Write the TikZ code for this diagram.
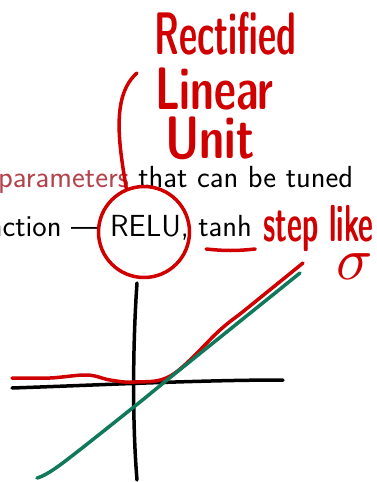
\documentclass[tikz,border=0pt]{standalone}
\usepackage{xcolor}
\usepackage{graphicx}
\usepackage{tikz}
\usetikzlibrary{positioning,calc}
\definecolor{penred}{HTML}{D00000}
\definecolor{alertred}{HTML}{B3434C}
\definecolor{pengreen}{HTML}{11795B}
\newcommand{\handtext}[2][0.6]{\scalebox{#1}[1]{#2}}

\begin{document}
\begin{tikzpicture}[x=1pt,y=-1pt,
  slide/.style={font=\fontsize{30.5}{34}\selectfont\sffamily,inner sep=0pt},
  hand/.style={font=\fontsize{60}{64}\selectfont\sffamily\bfseries,text=penred,inner sep=0pt,text depth=0pt},
  ink/.style={line width=3.5pt,line cap=round,line join=round},
  ring/.style={draw=penred,ink,circle,minimum size=91pt,inner sep=0pt}
]
\useasboundingbox (0,0) rectangle (376,482);
\fill[white] (0,0) rectangle (376,482);
\node[slide,anchor=base west] (tuned) at (-2,187) {\textcolor{alertred}{parameters} that can be tuned};
\node[slide,anchor=base west] (relu) at (110,236) {RELU,};
\node[slide,base left=10pt of relu] (func) {nction —};
\node[slide,base right=9pt of relu] (tanh) {tanh};
\node[ring] (circ) at (144,232) {};
\node[hand,anchor=base west] (rect) at (154,54) {\handtext[0.59]{Rectified}};
\node[hand,anchor=base west] (lin) at (155,109) {\handtext[0.71]{Linear}};
\node[hand,anchor=base west] (unit) at (165,158) {\handtext[0.75]{Unit}};
\node[hand,font=\fontsize{52}{56}\selectfont\sffamily\bfseries,anchor=base west] (step) at (263,241) {\handtext[0.56]{step like}};
\node[text=penred,inner sep=0pt] (sig) at (355,267) {\scalebox{6}{$\sigma$}};
\coordinate (tip) at (137,73);
\draw[ink,penred] (tip) .. controls (112,95) and (118,140) .. (circ.112);
\draw[ink,penred] ([xshift=8pt,yshift=-13pt]tanh.base west) to[bend right=6] ([xshift=3pt,yshift=-13pt]tanh.base east);
\draw[ink,black] (137,283) .. controls (133,340) and (132,420) .. (137,480);
\draw[ink,black] (12,388) .. controls (100,385) and (200,380) .. (283,380);
\draw[ink,penred] plot[smooth,tension=0.6] coordinates {(12,378) (50,378) (87,375) (110,380) (135,382) (172,375) (220,330) (245,310) (303,263)};
\draw[ink,pengreen] plot[smooth,tension=0.6] coordinates {(37,478) (60,465) (135,406) (172,376) (300,273)};
\end{tikzpicture}
\end{document}
